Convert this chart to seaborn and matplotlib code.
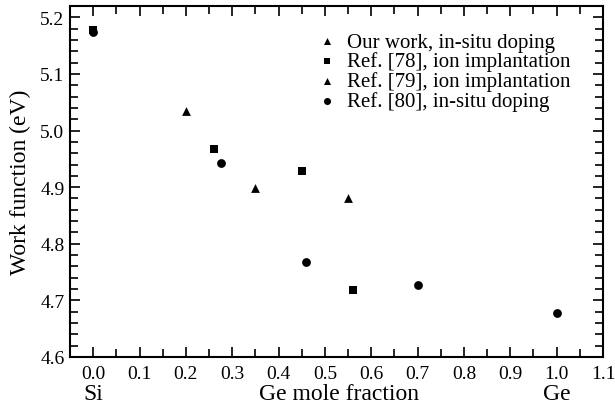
import matplotlib
matplotlib.use("Agg")
import matplotlib.pyplot as plt
import seaborn as sns
import pandas as pd
from matplotlib.ticker import MultipleLocator

sns.set_theme(style="ticks")
plt.rcParams['font.family'] = ['Liberation Serif', 'DejaVu Serif']
plt.rcParams['text.color'] = 'black'
plt.rcParams['axes.labelcolor'] = 'black'
plt.rcParams['xtick.color'] = 'black'
plt.rcParams['ytick.color'] = 'black'

# Data
our_x = [0.20, 0.35]
our_y = [5.035, 4.898]
ref78_x = [0.0, 0.26, 0.45, 0.56]
ref78_y = [5.178, 4.968, 4.928, 4.718]
ref79_x = [0.55]
ref79_y = [4.880]
ref80_x = [0.0, 0.275, 0.46, 0.70, 1.0]
ref80_y = [5.174, 4.943, 4.767, 4.727, 4.677]
labels = ["Our work, in-situ doping", "Ref. [78], ion implantation",
          "Ref. [79], ion implantation", "Ref. [80], in-situ doping"]
markers = ["^", "s", "^", "o"]
xticks = [0.0, 0.1, 0.2, 0.3, 0.4, 0.5, 0.6, 0.7, 0.8, 0.9, 1.0, 1.1]
yticks = [4.6, 4.7, 4.8, 4.9, 5.0, 5.1, 5.2]

series = [(our_x, our_y), (ref78_x, ref78_y), (ref79_x, ref79_y), (ref80_x, ref80_y)]

fig = plt.figure(figsize=(6.15, 4.06), dpi=100)
ax = fig.add_axes([70/615, 1-358/406, (603-70)/615, (358-7)/406])

for (xs, ys), lab, m in zip(series, labels, markers):
    df = pd.DataFrame({"x": xs, "y": ys})
    sns.scatterplot(data=df, x="x", y="y", ax=ax, marker=m, color="black",
                    s=40 if m != "s" else 34, edgecolor="black", linewidth=0, label=lab)

ax.set_xlim(-0.05, 1.1)
ax.set_ylim(4.6, 5.22)
ax.set_xticks(xticks)
ax.set_yticks(yticks)
ax.set_xticklabels([f"{v:.1f}" for v in xticks])
ax.set_yticklabels([f"{v:.1f}" for v in yticks])
ax.xaxis.set_minor_locator(MultipleLocator(0.05))
ax.yaxis.set_minor_locator(MultipleLocator(0.02))
ax.tick_params(which="both", direction="in", top=True, right=True, width=1.2,
               labelsize=14, colors="black")
ax.tick_params(axis="x", pad=6)
ax.tick_params(axis="y", pad=4)
ax.tick_params(which="major", length=7)
ax.tick_params(which="minor", length=5.5)
for sp in ax.spines.values():
    sp.set_linewidth(1.5)
    sp.set_color("black")

ax.set_xlabel("Ge mole fraction", fontsize=17, color="black")
ax.xaxis.label.set_va("baseline")
ax.xaxis.set_label_coords((339 - 70) / 533, (358 - 400) / 351)
ax.set_ylabel("Work function (eV)", fontsize=17, color="black")
ax.yaxis.label.set_va("center")
ax.yaxis.set_label_coords((20 - 70) / 533, 0.5)
for xv, t in [(0.0, "Si"), (1.0, "Ge")]:
    ax.text(xv, (358 - 400) / 351, t, transform=ax.get_xaxis_transform(),
            ha="center", va="baseline", fontsize=17, color="black")

leg = ax.legend(loc="upper left", bbox_to_anchor=((318.7 - 70) / 533, (358 - 33) / 351),
                frameon=False, fontsize=15, handletextpad=0.55,
                labelspacing=0.0, borderaxespad=0, borderpad=0, handlelength=0.8,
                markerscale=0.8, labelcolor="black")

fig.savefig("out.png", dpi=100)
